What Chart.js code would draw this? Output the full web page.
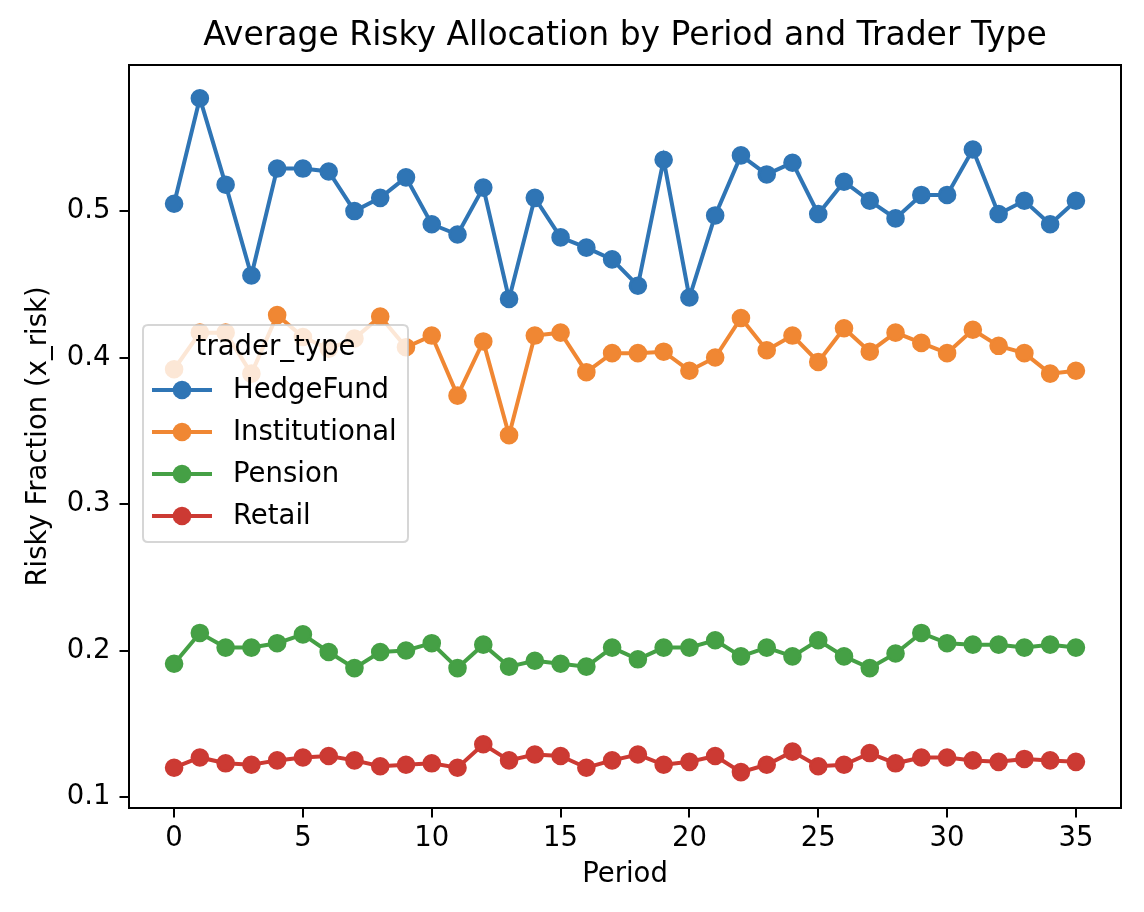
<!DOCTYPE html>
<html>
<head>
<meta charset="utf-8">
<script src="https://cdn.jsdelivr.net/npm/chart.js@4/dist/chart.umd.min.js"></script>
<style>
  html, body { margin: 0; padding: 0; background: #fff; }
  #wrap { width: 1144px; height: 912px; position: relative; }
</style>
</head>
<body>
<div id="wrap"><canvas id="c"></canvas></div>
<script>
const chartTitle = "Average Risky Allocation by Period and Trader Type";
const xAxisTitle = "Period";
const yAxisTitle = "Risky Fraction (x_risk)";
const legendTitle = "trader_type";

const periods = [0,1,2,3,4,5,6,7,8,9,10,11,12,13,14,15,16,17,18,19,20,21,22,23,24,25,26,27,28,29,30,31,32,33,34,35];
const xTicks = [0,5,10,15,20,25,30,35];
const yTicks = [0.1,0.2,0.3,0.4,0.5];

const seriesNames = ["HedgeFund","Institutional","Pension","Retail"];
const seriesColors = ["#2f75b5","#f08733","#45a045","#cc3a33"];

const hedgeFund = [0.505,0.577,0.518,0.456,0.529,0.529,0.527,0.500,0.509,0.523,0.491,0.484,0.516,0.440,0.509,0.482,0.475,0.467,0.449,0.535,0.441,0.497,0.538,0.525,0.533,0.498,0.520,0.507,0.495,0.511,0.511,0.542,0.498,0.507,0.491,0.507];
const institutional = [0.392,0.417,0.417,0.389,0.429,0.414,0.406,0.413,0.428,0.407,0.415,0.374,0.411,0.347,0.415,0.417,0.390,0.403,0.403,0.404,0.391,0.400,0.427,0.405,0.415,0.397,0.420,0.404,0.417,0.410,0.403,0.419,0.408,0.403,0.389,0.391];
const pension = [0.191,0.212,0.202,0.202,0.205,0.211,0.199,0.188,0.199,0.200,0.205,0.188,0.204,0.189,0.193,0.191,0.189,0.202,0.194,0.202,0.202,0.207,0.196,0.202,0.196,0.207,0.196,0.188,0.198,0.212,0.205,0.204,0.204,0.202,0.204,0.202];
const retail = [0.120,0.127,0.123,0.122,0.125,0.127,0.128,0.125,0.121,0.122,0.123,0.120,0.136,0.125,0.129,0.128,0.120,0.125,0.129,0.122,0.124,0.128,0.117,0.122,0.131,0.121,0.122,0.130,0.123,0.127,0.127,0.125,0.124,0.126,0.125,0.124];

const seriesValues = [hedgeFund, institutional, pension, retail];

const FONT = "'DejaVu Sans', 'Liberation Sans', sans-serif";
const TXT = 27.5;
Chart.defaults.font.family = FONT;
Chart.defaults.color = "#000";

const datasets = seriesNames.map((name, i) => ({
  label: name,
  data: periods.map((p, j) => ({ x: p, y: seriesValues[i][j] })),
  borderColor: seriesColors[i],
  backgroundColor: seriesColors[i],
  pointBackgroundColor: seriesColors[i],
  pointBorderColor: seriesColors[i],
  borderWidth: 4,
  pointRadius: 8,
  pointBorderWidth: 2.6,
  pointHoverRadius: 8,
  tension: 0,
  fill: false
}));

const framePlugin = {
  id: 'frameAndLegend',
  afterDatasetsDraw(chart) {
    const ctx = chart.ctx;
    const a = chart.chartArea;
    ctx.save();
    ctx.strokeStyle = "#000";
    ctx.lineWidth = 2;
    ctx.strokeRect(a.left, a.top, a.right - a.left, a.bottom - a.top);

    const bx = a.left + 14, by = 325, bw = 265, bh = 217, r = 5;
    ctx.beginPath();
    ctx.moveTo(bx + r, by);
    ctx.lineTo(bx + bw - r, by);
    ctx.quadraticCurveTo(bx + bw, by, bx + bw, by + r);
    ctx.lineTo(bx + bw, by + bh - r);
    ctx.quadraticCurveTo(bx + bw, by + bh, bx + bw - r, by + bh);
    ctx.lineTo(bx + r, by + bh);
    ctx.quadraticCurveTo(bx, by + bh, bx, by + bh - r);
    ctx.lineTo(bx, by + r);
    ctx.quadraticCurveTo(bx, by, bx + r, by);
    ctx.closePath();
    ctx.fillStyle = "rgba(255,255,255,0.8)";
    ctx.fill();
    ctx.strokeStyle = "rgba(204,204,204,0.8)";
    ctx.lineWidth = 2;
    ctx.stroke();

    ctx.font = TXT + "px " + FONT;
    ctx.fillStyle = "#000";
    ctx.textBaseline = "middle";
    ctx.textAlign = "center";
    ctx.fillText(legendTitle, bx + bw / 2, by + 23);

    ctx.textAlign = "left";
    chart.data.datasets.forEach((ds, i) => {
      const y = by + 65 + i * 42;
      ctx.strokeStyle = ds.borderColor;
      ctx.lineWidth = 4;
      ctx.beginPath();
      ctx.moveTo(bx + 9, y);
      ctx.lineTo(bx + 69, y);
      ctx.stroke();
      ctx.beginPath();
      ctx.arc(bx + 39, y, 9.3, 0, Math.PI * 2);
      ctx.fillStyle = ds.borderColor;
      ctx.fill();
      ctx.fillStyle = "#000";
      ctx.fillText(ds.label, bx + 90, y + 1);
    });
    ctx.restore();
  },
  afterDraw(chart) {
    const ctx = chart.ctx;
    const a = chart.chartArea;
    ctx.save();
    ctx.font = "33px " + FONT;
    ctx.fillStyle = "#000";
    ctx.textAlign = "center";
    ctx.textBaseline = "middle";
    ctx.fillText(chartTitle, (a.left + a.right) / 2, 36);
    ctx.restore();
  }
};

new Chart(document.getElementById('c'), {
  type: 'line',
  data: { datasets },
  plugins: [framePlugin],
  options: {
    responsive: true,
    maintainAspectRatio: false,
    animation: false,
    layout: { padding: { top: 65, right: 23, bottom: 0, left: 0 } },
    plugins: {
      legend: { display: false },
      title: { display: false },
      tooltip: { enabled: false }
    },
    scales: {
      x: {
        type: 'linear',
        min: -1.75,
        max: 36.75,
        afterBuildTicks: (s) => { s.ticks = xTicks.map(v => ({ value: v })); },
        afterFit: (s) => { s.height = 104; },
        ticks: {
          font: { size: TXT },
          color: "#000",
          padding: 5,
          maxRotation: 0,
          autoSkip: false,
          callback: (v) => String(v)
        },
        grid: {
          display: true,
          drawOnChartArea: false,
          drawTicks: true,
          tickLength: 9.5,
          color: "#000",
          lineWidth: 2
        },
        border: { display: false },
        title: {
          display: true,
          text: xAxisTitle,
          font: { size: TXT },
          color: "#000",
          padding: { top: 0, bottom: 21 }
        }
      },
      y: {
        type: 'linear',
        min: 0.0925,
        max: 0.5997,
        afterBuildTicks: (s) => { s.ticks = yTicks.map(v => ({ value: v })); },
        afterFit: (s) => { s.width = 129; },
        ticks: {
          font: { size: TXT },
          color: "#000",
          padding: 9,
          autoSkip: false,
          callback: (v) => Number(v).toFixed(1)
        },
        grid: {
          display: true,
          drawOnChartArea: false,
          drawTicks: true,
          tickLength: 9.5,
          color: "#000",
          lineWidth: 2
        },
        border: { display: false },
        title: {
          display: true,
          text: yAxisTitle,
          font: { size: TXT },
          color: "#000",
          padding: { top: 22, bottom: 0 }
        }
      }
    }
  }
});
</script>
</body>
</html>
